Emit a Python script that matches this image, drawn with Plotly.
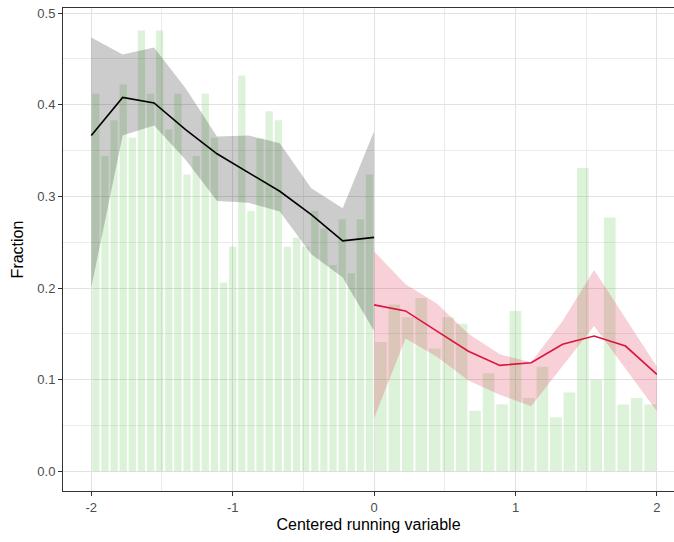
import numpy as np
import plotly.graph_objects as go

# ---------------- data ----------------
# binned fractions (left of cutoff: 31 bins on [-2,0]; right: 21 bins on [0,2])
left_bins_range = (-2.0, 0.0)
right_bins_range = (0.0, 2.0)
left_heights = [0.412, 0.344, 0.383, 0.422, 0.364, 0.481, 0.412, 0.481, 0.373, 0.412,
                0.324, 0.344, 0.412, 0.364, 0.206, 0.245, 0.432, 0.284, 0.363, 0.393,
                0.383, 0.245, 0.255, 0.245, 0.284, 0.265, 0.225, 0.275, 0.216, 0.275,
                0.324]
right_heights = [0.141, 0.182, 0.168, 0.189, 0.134, 0.168, 0.161, 0.066, 0.107, 0.073,
                 0.175, 0.080, 0.114, 0.059, 0.086, 0.331, 0.100, 0.277, 0.073, 0.080,
                 0.073]

# fitted curves and bands
left_fit_x = [-2.0, -1.778, -1.556, -1.333, -1.111, -0.889, -0.667, -0.444, -0.222, 0.0]
left_fit = [0.3665, 0.408, 0.402, 0.373, 0.3465, 0.326, 0.3056, 0.280, 0.2515, 0.2553]
left_upper = [0.4734, 0.4548, 0.4625, 0.418, 0.3654, 0.3665, 0.358, 0.309, 0.287, 0.371]
left_lower = [0.2005, 0.3665, 0.3775, 0.340, 0.295, 0.293, 0.2835, 0.237, 0.2115, 0.153]

right_fit_x = [0.0, 0.222, 0.444, 0.667, 0.889, 1.111, 1.333, 1.556, 1.778, 2.0]
right_fit = [0.1816, 0.175, 0.153, 0.131, 0.1156, 0.1185, 0.1386, 0.1477, 0.1367, 0.1057]
right_upper = [0.240, 0.204, 0.183, 0.150, 0.1276, 0.119, 0.164, 0.2196, 0.167, 0.114]
right_lower = [0.058, 0.145, 0.125, 0.099, 0.0835, 0.071, 0.115, 0.1586, 0.112, 0.0656]

x_ticks = [-2, -1, 0, 1, 2]
x_tick_labels = ["-2", "-1", "0", "1", "2"]
y_ticks = [0.0, 0.1, 0.2, 0.3, 0.4, 0.5]
y_tick_labels = ["0.0", "0.1", "0.2", "0.3", "0.4", "0.5"]

# ---------------- styles ----------------
BAR_COLOR = "rgba(100,200,80,0.22)"
GAP = 0.013
FONT = "Liberation Sans, Arial, Helvetica, sans-serif"


def bin_centers(rng, n):
    w = (rng[1] - rng[0]) / n
    return rng[0] + w * (np.arange(n) + 0.5), w


lx, lw = bin_centers(left_bins_range, len(left_heights))
rx, rw = bin_centers(right_bins_range, len(right_heights))

fig = go.Figure()

fig.add_trace(go.Bar(x=lx, y=left_heights, width=[lw - GAP] * len(lx),
                     marker=dict(color=BAR_COLOR, line=dict(width=0)),
                     showlegend=False, hoverinfo="skip"))
fig.add_trace(go.Bar(x=rx, y=right_heights, width=[rw - GAP] * len(rx),
                     marker=dict(color=BAR_COLOR, line=dict(width=0)),
                     showlegend=False, hoverinfo="skip"))

# bands
fig.add_trace(go.Scatter(x=left_fit_x + left_fit_x[::-1],
                         y=left_upper + left_lower[::-1],
                         fill="toself", fillcolor="rgba(0,0,0,0.2)",
                         line=dict(width=0), mode="lines",
                         showlegend=False, hoverinfo="skip"))
fig.add_trace(go.Scatter(x=right_fit_x + right_fit_x[::-1],
                         y=right_upper + right_lower[::-1],
                         fill="toself", fillcolor="rgba(220,20,60,0.2)",
                         line=dict(width=0), mode="lines",
                         showlegend=False, hoverinfo="skip"))

# fitted lines
fig.add_trace(go.Scatter(x=left_fit_x, y=left_fit, mode="lines",
                         line=dict(color="black", width=1.6),
                         showlegend=False))
fig.add_trace(go.Scatter(x=right_fit_x, y=right_fit, mode="lines",
                         line=dict(color="#DC143C", width=1.6),
                         showlegend=False))

fig.update_layout(
    width=674, height=542,
    margin=dict(l=63, r=0, t=8, b=51, pad=0),
    plot_bgcolor="white", paper_bgcolor="white",
    barmode="overlay",
    font=dict(family=FONT, color="black"),
    showlegend=False,
)

fig.update_xaxes(
    range=[-2.2, 2.121],
    tickvals=x_ticks, ticktext=x_tick_labels,
    ticks="outside", ticklen=4, tickwidth=1, tickcolor="#333333",
    tickfont=dict(size=13, color="#4D4D4D", family=FONT),
    showline=True, linecolor="#333333", linewidth=1, mirror=True,
    showgrid=True, gridcolor="#E2E2E2", gridwidth=1.2,
    minor=dict(dtick=0.5, tick0=-1.5, showgrid=True, gridcolor="#EBEBEB", gridwidth=0.8, ticks=""),
    zeroline=False,
    title=dict(text="Centered running variable", font=dict(size=16, color="black", family=FONT), standoff=5),
    automargin=False,
)
fig.update_yaxes(
    range=[-0.0215, 0.5056],
    tickvals=y_ticks, ticktext=y_tick_labels,
    ticks="outside", ticklen=4, tickwidth=1, tickcolor="#333333",
    tickfont=dict(size=13, color="#4D4D4D", family=FONT),
    showline=True, linecolor="#333333", linewidth=1, mirror=False,
    showgrid=True, gridcolor="#E2E2E2", gridwidth=1.2,
    minor=dict(dtick=0.05, tick0=0.05, showgrid=True, gridcolor="#EBEBEB", gridwidth=0.8, ticks=""),
    zeroline=False,
    title=dict(text="Fraction", font=dict(size=16, color="black", family=FONT), standoff=9),
    automargin=False,
)

fig.write_html("out.html")
